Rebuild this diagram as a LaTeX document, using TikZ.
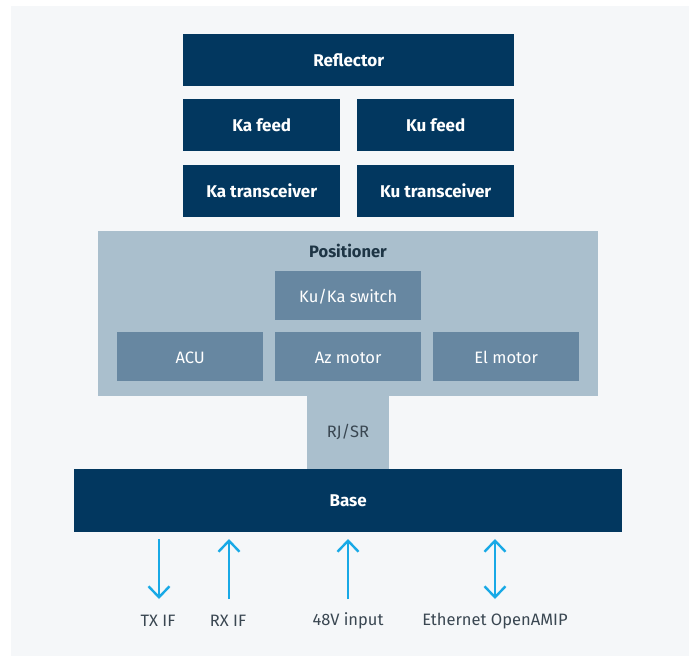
\documentclass[tikz,border=0pt]{standalone}
\usepackage{fontspec}
\setmainfont{Fira Sans}
\usetikzlibrary{arrows.meta}
\definecolor{navy}{HTML}{02375F}
\definecolor{posbg}{HTML}{AABFCD}
\definecolor{unitbg}{HTML}{6787A1}
\definecolor{pagebg}{HTML}{F5F7F9}
\definecolor{postext}{HTML}{1E3545}
\definecolor{labtext}{HTML}{3A4752}
\definecolor{sig}{HTML}{18A9E6}
\tikzset{
  box/.style={draw=none, inner sep=0pt, anchor=north west},
  darkbox/.style={box, fill=navy, text=white, font=\fontsize{17}{19}\selectfont\bfseries},
  unitbox/.style={box, fill=unitbg, text=white, font=\fontsize{16.5}{19}\selectfont,
    text height=16.5pt, text depth=2pt},
  iolabel/.style={text=labtext, font=\fontsize{16.5}{19}\selectfont, inner sep=0pt},
  barb/.tip={Straight Barb[length=11pt, width=21pt, line width=2.4pt]},
  sigline/.style={draw=sig, line width=2.4pt, -barb},
}
\begin{document}
\begin{tikzpicture}[x=1pt, y=-1pt]
\useasboundingbox (0,0) rectangle (689,656);
\fill[pagebg] (11,6) rectangle (689,656);

% antenna front end
\node[darkbox, minimum width=331pt, minimum height=52pt] (refl) at (183,34) {Reflector};
\node[darkbox, minimum width=157pt, minimum height=52pt] (kafeed) at (183,99) {Ka feed};
\node[darkbox, minimum width=157pt, minimum height=52pt] (kufeed) at (357,99) {Ku feed};
\node[darkbox, minimum width=157pt, minimum height=52pt] (katrx) at (183,165) {Ka transceiver};
\node[darkbox, minimum width=157pt, minimum height=52pt] (kutrx) at (357,165) {Ku transceiver};

% positioner and rotary joint
\node[box, fill=posbg, minimum width=82pt, minimum height=75pt] (rjsr) at (307,396) {};
\node[text=labtext, font=\fontsize{16.5}{19}\selectfont] (rjlabel) at (348,432) {RJ/SR};
\node[box, fill=posbg, minimum width=500pt, minimum height=165pt] (pos) at (98,231) {};
\node[text=postext, font=\fontsize{16.5}{19}\selectfont\bfseries] (poslabel) at (348,251) {Positioner};
\node[unitbox, minimum width=146pt, minimum height=49pt] (sw) at (275,271) {Ku/Ka switch};
\node[unitbox, minimum width=146pt, minimum height=49pt] (acu) at (117,332) {ACU};
\node[unitbox, minimum width=146pt, minimum height=49pt] (az) at (275,332) {Az motor};
\node[unitbox, minimum width=146pt, minimum height=49pt] (el) at (433,332) {El motor};

% base
\node[darkbox, minimum width=548pt, minimum height=63pt] (base) at (74,469) {Base};

% external interfaces
\node[iolabel] (tx) at (158,621) {TX IF};
\node[iolabel] (rx) at (228,621) {RX IF};
\node[iolabel] (pwr) at (348,621) {48V input};
\node[iolabel] (eth) at (495,621) {Ethernet OpenAMIP};

\coordinate (txtop) at (159,539);  \coordinate (txbot) at (159,599);
\coordinate (rxtop) at (229,539);  \coordinate (rxbot) at (229,599);
\coordinate (pwtop) at (348,539);  \coordinate (pwbot) at (348,599);
\coordinate (ettop) at (495,539);  \coordinate (etbot) at (495,599);

\draw[sigline] (txtop) -- (txbot);
\draw[sigline] (rxbot) -- (rxtop);
\draw[sigline] (pwbot) -- (pwtop);
\draw[sigline, barb-barb] (ettop) -- (etbot);
\end{tikzpicture}
\end{document}
